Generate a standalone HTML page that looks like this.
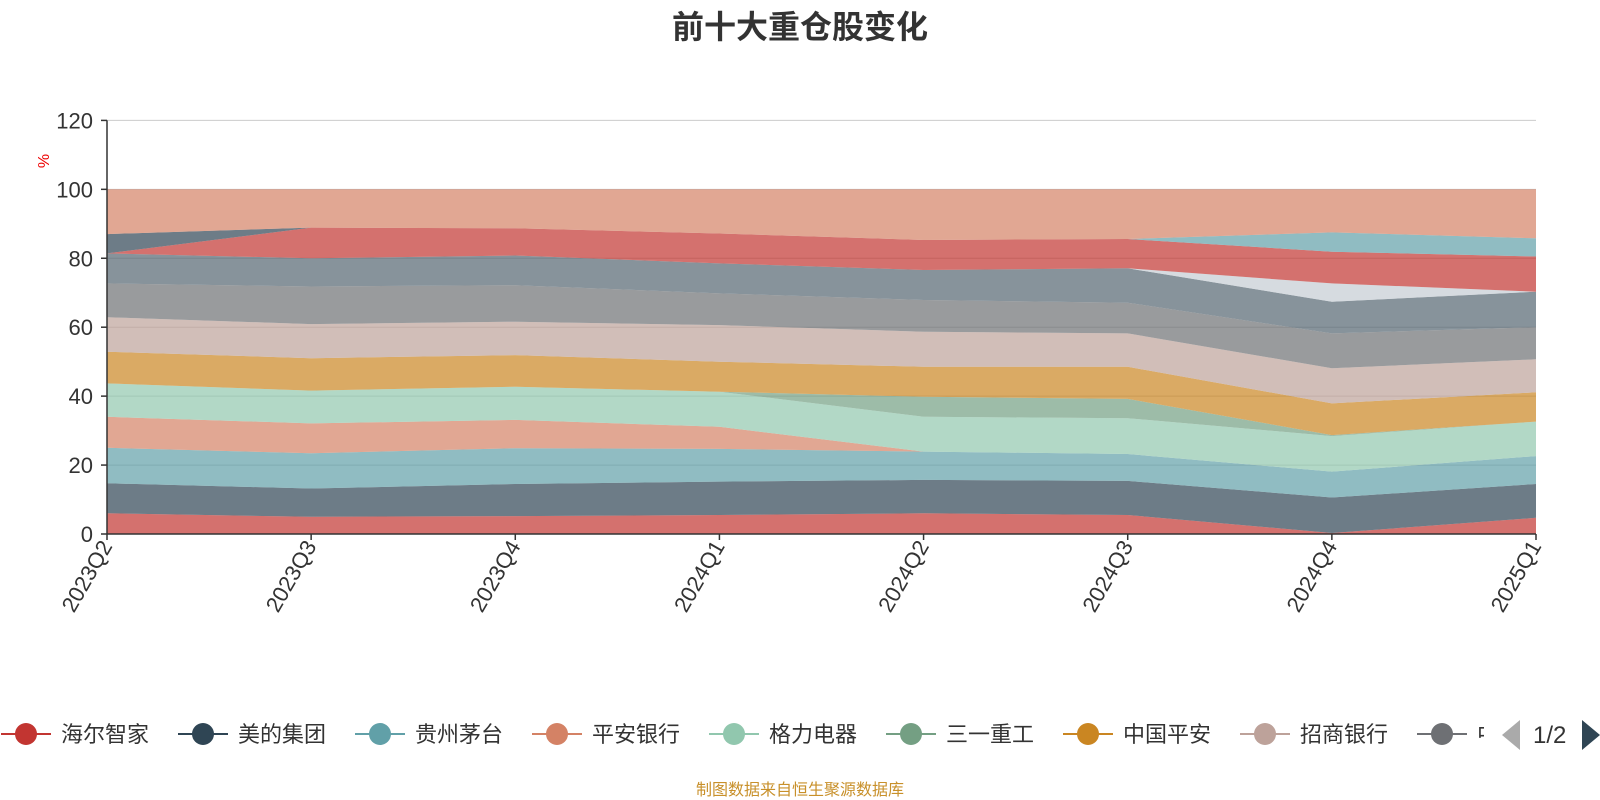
<!DOCTYPE html>
<html><head><meta charset="utf-8"><style>
html,body{margin:0;padding:0;background:#fff;}
svg{display:block;font-family:"Liberation Sans","Noto Sans CJK SC",sans-serif;}
</style></head><body>
<svg id="chart" width="1600" height="800" viewBox="0 0 1600 800">
<text x="800" y="38" text-anchor="middle" font-size="32" font-weight="bold" fill="#333">前十大重仓股变化</text>
<text transform="translate(49,161) rotate(-90)" text-anchor="middle" font-size="16" fill="#e00">%</text>
<g id="grid"></g>
<g id="areas"></g>
<g id="axes"></g>
<g id="legend"></g>
<text x="800" y="795" text-anchor="middle" font-size="16" fill="#c8902a">制图数据来自恒生聚源数据库</text>
</svg>
<script>
const categories=["2023Q2","2023Q3","2023Q4","2024Q1","2024Q2","2024Q3","2024Q4","2025Q1"];
const yTicks=[0,20,40,60,80,100,120];
const seriesNames=["海尔智家","美的集团","贵州茅台","平安银行","格力电器","三一重工","中国平安","招商银行","中信银行","伊利股份","紫金矿业","比亚迪","宁德时代","五粮液","其他"];
const s1=[6.0,5.0,5.2,5.5,6.0,5.5,0.3,4.7];
const s2=[8.7,8.2,9.3,9.7,9.7,9.9,10.3,9.8];
const s3=[10.3,10.2,10.4,9.5,8.2,7.8,7.5,8.1];
const s4=[9.0,8.7,8.2,6.4,0,0,0,0];
const s5=[9.7,9.5,9.6,10.2,10.1,10.4,10.3,10.0];
const s6=[0,0,0,0,5.8,5.6,0.3,0];
const s7=[9.2,9.4,9.2,8.7,8.7,9.3,9.2,8.5];
const s8=[10.0,9.9,9.7,10.6,10.2,9.7,10.2,9.6];
const s9=[9.8,10.9,10.6,9.2,9.2,8.9,10.1,9.3];
const s10=[8.7,8.2,8.6,8.7,8.7,10.0,9.2,10.3];
const s11=[0,0,0,0,0,0,5.3,0];
const s12=[0,8.9,7.9,8.7,8.7,8.5,9.2,10.2];
const s13=[5.6,0,0,0,0,0,0,0];
const s14=[0,0,0,0,0,0,5.6,5.3];
const s15=[13.0,11.1,11.3,12.8,14.7,14.4,12.5,14.2];
const allSeries=[s1,s2,s3,s4,s5,s6,s7,s8,s9,s10,s11,s12,s13,s14,s15];
const colors=["#c23531","#2f4554","#61a0a8","#d48265","#91c7ae","#749f83","#ca8622","#bda29a","#6e7074","#546570","#c4ccd3","#c23531","#2f4554","#61a0a8","#d48265"];
const NS="http://www.w3.org/2000/svg";
const X0=107,X1=1536,Y0=534,YT=120.4,YMAX=120;
const xs=i=>X0+i*(X1-X0)/(categories.length-1);
const ys=v=>Y0-v*(Y0-YT)/YMAX;
function mk(tag,attrs,parent){const e=document.createElementNS(NS,tag);for(const k in attrs)e.setAttribute(k,attrs[k]);parent.appendChild(e);return e;}
const grid=document.getElementById('grid'),areas=document.getElementById('areas'),axes=document.getElementById('axes'),legend=document.getElementById('legend');
yTicks.forEach(t=>{
  if(t===0)return;
  const l=mk('line',{x1:X0,x2:X1,y1:ys(t),y2:ys(t),stroke:'#ccc','stroke-width':1},grid);
  
  
});
let cum=categories.map(()=>0);
allSeries.forEach((s,si)=>{
  const lower=cum.slice();
  const upper=cum.map((c,i)=>c+s[i]);
  let d='';
  upper.forEach((v,i)=>{d+=(i?'L':'M')+xs(i).toFixed(1)+','+ys(v).toFixed(1);});
  for(let i=lower.length-1;i>=0;i--)d+='L'+xs(i).toFixed(1)+','+ys(lower[i]).toFixed(1);
  d+='Z';
  const p=mk('path',{d:d,fill:colors[si],'fill-opacity':0.7,stroke:'none'},areas);
  
  
  cum=upper;
});
mk('line',{x1:X0,x2:X0,y1:YT,y2:Y0,stroke:'#333','stroke-width':1.5},axes);
mk('line',{x1:X0,x2:X1,y1:Y0,y2:Y0,stroke:'#333','stroke-width':1.5},axes);
yTicks.forEach(t=>{
  mk('line',{x1:X0-6,x2:X0,y1:ys(t),y2:ys(t),stroke:'#333','stroke-width':1.5},axes);
  const tx=mk('text',{x:X0-14,y:ys(t)+8,'text-anchor':'end','font-size':22,fill:'#333'},axes);
  tx.textContent=t;
  
  
});
categories.forEach((c,i)=>{
  mk('line',{x1:xs(i),x2:xs(i),y1:Y0,y2:Y0+6,stroke:'#333','stroke-width':1.5},axes);
  const tx=mk('text',{transform:`translate(${xs(i)+6},${Y0+12}) rotate(-60)`,'text-anchor':'end','font-size':22,fill:'#333'},axes);
  tx.textContent=c;
  
  
});
// legend
const defs=mk('defs',{},legend);
const cp=mk('clipPath',{id:'lgclip'},defs);
mk('rect',{x:0,y:700,width:1484,height:70},cp);
const lg=mk('g',{'clip-path':'url(#lgclip)'},legend);
for(let i=0;i<9;i++){
  const cx=26+i*177,cy=734;
  const g=mk('g',{},lg);
  
  
  mk('line',{x1:cx-25,x2:cx+25,y1:cy,y2:cy,stroke:colors[i],'stroke-width':2},g);
  mk('circle',{cx:cx,cy:cy,r:11,fill:colors[i]},g);
  const t=mk('text',{x:cx+35,y:cy+8,'font-size':22,fill:'#333'},g);
  t.textContent=seriesNames[i];
}
const pl=mk('polygon',{points:'1520,720 1520,750 1502,735',fill:'#aaa'},legend);


const pt=mk('text',{x:1533,y:743,'font-size':24,fill:'#333'},legend);
pt.textContent='1/2';


const pr=mk('polygon',{points:'1582,720 1582,750 1600,735',fill:'#2f4554'},legend);


</script>
</body></html>
